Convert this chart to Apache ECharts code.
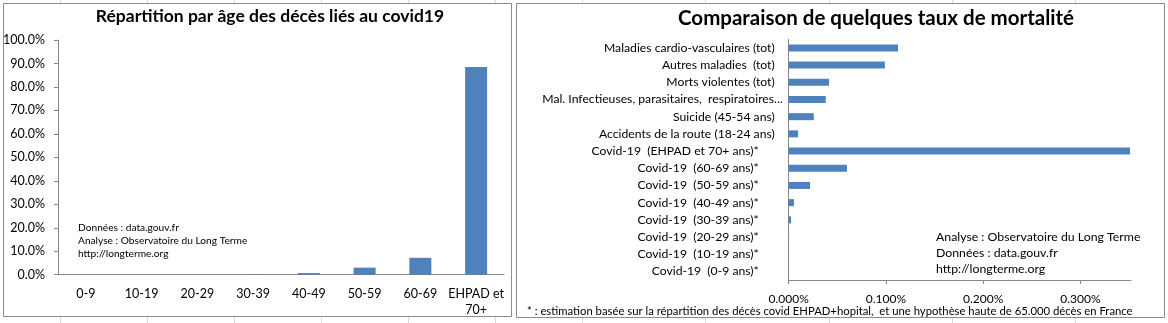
<!DOCTYPE html>
<html><head><meta charset="utf-8">
<script src="https://cdn.jsdelivr.net/npm/echarts@6/dist/echarts.min.js"></script>
<style>html,body{margin:0;padding:0;background:#fff;overflow:hidden}#c{width:1168px;height:323px}</style>
</head><body><div id="c"></div>
<script>
// ---- data ----
const ageCategories = ['0-9', '10-19', '20-29', '30-39', '40-49', '50-59', '60-69', 'EHPAD et\n70+'];
const ageShares = [0.0000, 0.0000, 0.0003, 0.0010, 0.007, 0.030, 0.072, 0.885];

const rateCategories = [
  'Maladies cardio-vasculaires (tot)',
  'Autres maladies  (tot)',
  'Morts violentes (tot)',
  'Mal. Infectieuses, parasitaires,  respiratoires...',
  'Suicide (45-54 ans)',
  'Accidents de la route (18-24 ans)',
  'Covid-19  (EHPAD et 70+ ans)*',
  'Covid-19  (60-69 ans)*',
  'Covid-19  (50-59 ans)*',
  'Covid-19  (40-49 ans)*',
  'Covid-19  (30-39 ans)*',
  'Covid-19  (20-29 ans)*',
  'Covid-19  (10-19 ans)*',
  'Covid-19  (0-9 ans)*'
];
const rateValues = [0.001124, 0.000989, 0.000415, 0.000381, 0.000258, 0.000097, 0.003510,
                    0.000599, 0.000219, 0.000054, 0.000024, 0.000004, 0.000001, 0.0000005];

const leftTitle = 'Répartition par âge des décès liés au covid19';
const rightTitle = 'Comparaison de quelques taux de mortalité';
const leftNotes = ['Données : data.gouv.fr', 'Analyse : Observatoire du Long Terme', 'http://longterme.org'];
const rightNotes = ['Analyse : Observatoire du Long Terme', 'Données : data.gouv.fr', 'http://longterme.org'];
const footnote = '* : estimation basée sur la répartition des décès covid EHPAD+hopital,  et une hypothèse haute de 65.000 décès en France';

// ---- chart ----
const FONT = 'Lato, "Open Sans", "DejaVu Sans", sans-serif';
const AXIS = '#868686';
const BAR = '#4f81bd';
const GRIDC = '#d9d9d9';

const chart = echarts.init(document.getElementById('c'), null, {renderer: 'canvas'});

const sheetLines = [];
[60, 147, 234, 321, 408, 495, 582, 705, 829, 952, 1075].forEach(x => {
  sheetLines.push({type: 'line', z: -20, shape: {x1: x + 0.5, y1: 317, x2: x + 0.5, y2: 323}, style: {stroke: GRIDC, lineWidth: 1}});
  sheetLines.push({type: 'line', z: -20, shape: {x1: x + 0.5, y1: 0, x2: x + 0.5, y2: 3}, style: {stroke: GRIDC, lineWidth: 1}});
});

function textLines(arr, x, y0, dy, size) {
  return arr.map((t, i) => ({
    type: 'text', z: 10, x: x, y: y0 + i * dy,
    style: {text: t, fill: '#000', font: size + 'px ' + FONT, textVerticalAlign: 'middle', textAlign: 'left'}
  }));
}

const option = {
  animation: false,
  textStyle: {fontFamily: FONT},
  grid: [
    {left: 57, top: 40, width: 447, height: 234.7, containLabel: false},
    {left: 788.7, top: 39.3, right: 37, bottom: 43, containLabel: false}
  ],
  xAxis: [
    {
      gridIndex: 0, type: 'category', data: ageCategories,
      axisLine: {lineStyle: {color: AXIS}},
      axisTick: {length: 5, lineStyle: {color: AXIS}},
      axisLabel: {color: '#000', fontSize: 12.5, margin: 11, lineHeight: 16, interval: 0, fontFamily: FONT}
    },
    {
      gridIndex: 1, type: 'value', min: 0, max: 0.00352, interval: 0.001,
      axisLine: {show: true, lineStyle: {color: AXIS}},
      axisTick: {show: true, length: 4, lineStyle: {color: AXIS}},
      splitLine: {show: false},
      axisLabel: {color: '#000', fontSize: 12, margin: 13, showMaxLabel: false, fontFamily: FONT,
        formatter: v => (v * 100).toFixed(3) + '%'}
    }
  ],
  yAxis: [
    {
      gridIndex: 0, type: 'value', min: 0, max: 1, interval: 0.1,
      axisLine: {show: true, lineStyle: {color: AXIS}},
      axisTick: {show: true, length: 4, lineStyle: {color: AXIS}},
      splitLine: {show: false},
      axisLabel: {color: '#000', fontSize: 12.5, margin: 13, fontFamily: FONT,
        formatter: v => (v * 100).toFixed(1) + '%'}
    },
    {
      gridIndex: 1, type: 'category', data: rateCategories, inverse: true,
      axisLine: {lineStyle: {color: AXIS}},
      axisTick: {length: 5, lineStyle: {color: AXIS}},
      axisLabel: {
        interval: 0, margin: 5, fontFamily: FONT,
        formatter: v => {
          if (v.indexOf('Covid') === 0) return '{c|' + v + '}';
          if (v.indexOf('Mal. ') === 0) return '{m|' + v + '}';
          return '{a|' + v + '}';
        },
        rich: {
          a: {color: '#000', fontSize: 12.2, fontFamily: FONT, padding: [0, 9, 0, 0]},
          c: {color: '#000', fontSize: 12.2, fontFamily: FONT, padding: [0, 25, 0, 0]},
          m: {color: '#000', fontSize: 12.2, fontFamily: FONT, padding: [0, 1, 0, 0]}
        }
      }
    }
  ],
  series: [
    {type: 'bar', xAxisIndex: 0, yAxisIndex: 0, data: ageShares, barWidth: 22, itemStyle: {color: BAR}},
    {type: 'bar', xAxisIndex: 1, yAxisIndex: 1, data: rateValues, barWidth: 7, itemStyle: {color: BAR}}
  ],
  graphic: [
    ...sheetLines,
    {type: 'rect', z: -10, shape: {x: 3.5, y: 3.5, width: 508, height: 313}, style: {fill: '#fff', stroke: '#8c8c8c', lineWidth: 1}},
    {type: 'rect', z: -10, shape: {x: 516.5, y: 3.5, width: 648, height: 314}, style: {fill: '#fff', stroke: '#8c8c8c', lineWidth: 1}},
    {type: 'text', z: 10, x: 270, y: 16, style: {text: leftTitle, fill: '#000', font: 'bold 17.5px ' + FONT, textAlign: 'center', textVerticalAlign: 'middle'}},
    {type: 'text', z: 10, x: 876, y: 18, style: {text: rightTitle, fill: '#000', font: 'bold 20.5px ' + FONT, textAlign: 'center', textVerticalAlign: 'middle'}},
    ...textLines(leftNotes, 78, 228, 13, 10.2),
    ...textLines(rightNotes, 936, 237, 16, 12.3),
    {type: 'text', z: 10, x: 527, y: 311, style: {text: footnote, fill: '#000', font: '11.3px ' + FONT, textAlign: 'left', textVerticalAlign: 'middle'}}
  ]
};
chart.setOption(option);
</script>
</body></html>
